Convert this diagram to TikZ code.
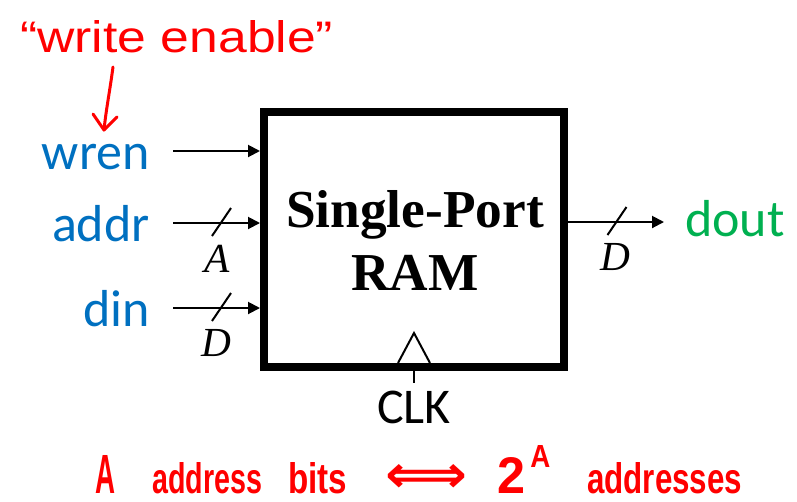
\documentclass[tikz,border=0pt]{standalone}
\usepackage{fontspec}
\usepackage{graphicx}
\usetikzlibrary{arrows.meta,calc}
\newfontfamily\calfont{Carlito}
\newfontfamily\timesfont{Liberation Serif}
\newfontfamily\handfont{Liberation Sans}
\newfontfamily\djfont{DejaVu Sans}
\definecolor{sigblue}{RGB}{0,112,192}
\definecolor{siggreen}{RGB}{0,176,80}
\definecolor{inkred}{RGB}{255,0,0}
\begin{document}
\begin{tikzpicture}[x=0.75pt,y=-0.75pt,
  sig/.style={inner sep=0pt,font=\calfont\fontsize{39pt}{47pt}\selectfont},
  insig/.style={sig,text=sigblue,anchor=base east},
  outsig/.style={sig,text=siggreen,anchor=base west},
  width/.style={inner sep=0pt,anchor=base,font=\timesfont\itshape\fontsize{31pt}{37pt}\selectfont},
  wire/.style={line width=1.5pt,-{Triangle[length=9pt,width=9pt]}},
  slashmark/.style={line width=1.5pt},
  hand/.style={inner sep=0pt,anchor=base west,text=inkred,font=\handfont\bfseries},
  ink/.style={draw=inkred,line width=2.25pt,line cap=round,line join=round},
  ramtext/.style={inner sep=0pt,anchor=base,font=\timesfont\bfseries\fontsize{40pt}{48pt}\selectfont}]
\useasboundingbox (0,0) rectangle (797,501);

% RAM block
\node[draw,line width=6pt,inner sep=0pt,minimum width=225pt,minimum height=191.25pt] (box) at (414,239.5) {};
\node[ramtext] (t1) at (415,227) {Single-Port};
\node[ramtext] (t2) at (415,290) {RAM};

% inputs
\node[insig] (wren) at (150,169.5) {wren};
\node[insig] (addr) at (150,241) {addr};
\node[insig] (din)  at (150,326) {din};
\coordinate (wrens) at (173,151);
\coordinate (addrs) at (173,223);
\coordinate (dins)  at (173,308);
\draw[wire] (wrens) -- (box.west |- wrens);
\draw[wire] (addrs) -- (box.west |- addrs);
\draw[wire] (dins) -- (box.west |- dins);
\coordinate (sa) at (221.5,222);
\coordinate (sd) at (221.5,307);
\draw[slashmark] ($(sa)+(-9.5,14)$) -- ($(sa)+(9.5,-14)$);
\draw[slashmark] ($(sd)+(-9.5,14)$) -- ($(sd)+(9.5,-14)$);
\node[width] (wa) at (217,272) {A};
\node[width] (wd) at (216,356) {D};

% output
\coordinate (douts) at (664,222);
\draw[wire] (box.east |- douts) -- (douts);
\coordinate (so) at (617,221);
\draw[slashmark] ($(so)+(-9.5,14)$) -- ($(so)+(9.5,-14)$);
\node[width] (wo) at (615,270) {D};
\node[outsig] (dout) at (685,236) {dout};

% clock
\coordinate (ckl) at (398,363);
\coordinate (ckt) at (414,333);
\coordinate (ckr) at (430,363);
\draw[line width=1.5pt,line join=miter] (ckl) -- (ckt) -- (ckr);
\coordinate (ckb) at (414,383);
\draw[line width=1.5pt] (box.south) -- (ckb);
\node[sig,anchor=base,font=\calfont\fontsize{37.5pt}{45pt}\selectfont] (clk) at (414,423) {CLK};

% handwritten annotations
\node[hand,font=\handfont] (we) at (20,52) {\resizebox{234.75pt}{24pt}{“write enable”}};
\coordinate (ra) at (113,67);
\coordinate (rb) at (104,130);
\coordinate (rl) at (93,114);
\coordinate (rr) at (117,117);
\draw[ink] (ra) .. controls (110,90) and (106,110) .. (rb);
\draw[ink] (rl) -- (rb) -- (rr);

\node[hand] (h1) at (95,493) {\resizebox{15pt}{28.5pt}{A}};
\node[hand] (h2) at (152,493) {\resizebox{82.5pt}{23.25pt}{address}};
\node[hand] (h3) at (288,493) {\resizebox{44.25pt}{23.25pt}{bits}};
\node[inner sep=0pt,text=inkred,font=\djfont\bfseries] (h4) at (426,478) {\resizebox{61.5pt}{21pt}{⟺}};
\node[hand] (h5) at (497,493) {\resizebox{21pt}{27pt}{2}};
\node[hand] (h6) at (530,467) {\resizebox{15pt}{16.5pt}{A}};
\node[hand] (h7) at (587,493) {\resizebox{116.25pt}{23.25pt}{addresses}};
\end{tikzpicture}
\end{document}
